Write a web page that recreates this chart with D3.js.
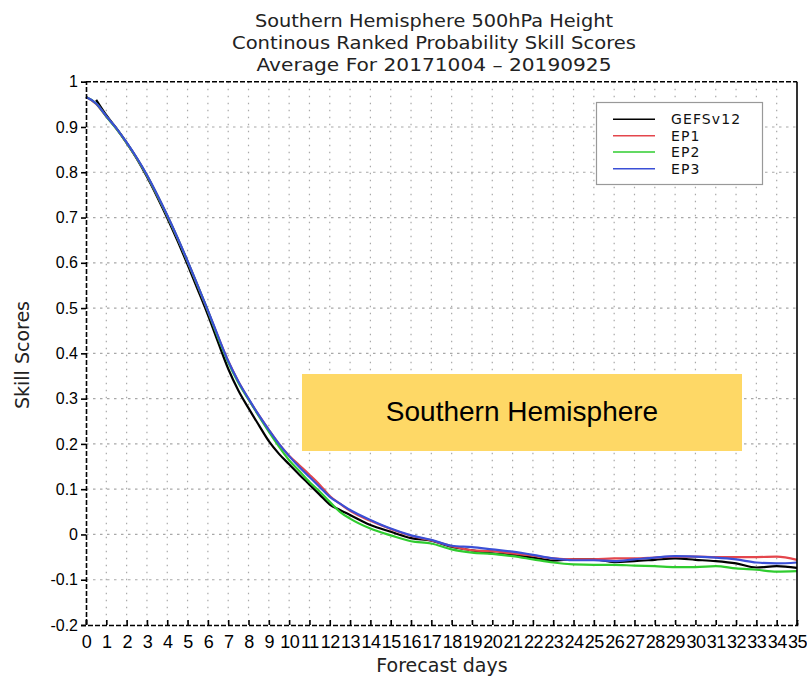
<!DOCTYPE html>
<html>
<head>
<meta charset="utf-8">
<script src="https://cdn.jsdelivr.net/npm/d3@7"></script>
<style>
  html, body { margin: 0; padding: 0; background: #fff; }
  svg { display: block; }
</style>
</head>
<body>
<svg id="chart" width="807" height="678"></svg>
<script>
// ---------------- DATA ----------------
const titleLines = [
  "Southern Hemisphere 500hPa Height",
  "Continous Ranked Probability Skill Scores",
  "Average For 20171004 \u2013 20190925"
];
const xLabel = "Forecast days";
const yLabel = "Skill Scores";
const bannerText = "Southern Hemisphere";

const days = [0, 0.5, 1, 1.5, 2, 2.5, 3, 3.5, 4, 4.5, 5, 5.5, 6, 6.5, 7, 7.5, 8, 8.5, 9, 9.5,
  10, 10.5, 11, 11.5, 12, 12.5, 13, 14, 15, 16, 17, 18, 19, 20, 21, 22, 23, 24, 25, 26, 27,
  28, 29, 30, 31, 32, 33, 34, 35];

const gefsv12 = [null, 0.960, 0.926, 0.897, 0.865, 0.830, 0.790, 0.746, 0.699, 0.649, 0.596, 0.541,
  0.485, 0.425, 0.366, 0.318, 0.279, 0.242, 0.206, 0.178, 0.155, 0.132, 0.110, 0.088, 0.066, 0.054,
  0.043, 0.021, 0.006, -0.008, -0.014, -0.027, -0.035, -0.042, -0.045, -0.051, -0.058, -0.055,
  -0.055, -0.061, -0.059, -0.056, -0.053, -0.056, -0.059, -0.064, -0.073, -0.070, -0.074];

const ep1 = [0.966, 0.951, 0.923, 0.896, 0.865, 0.831, 0.793, 0.750, 0.704, 0.655, 0.603, 0.549,
  0.494, 0.437, 0.383, 0.338, 0.299, 0.264, 0.231, 0.200, 0.174, 0.153, 0.132, 0.110, 0.085, 0.068,
  0.052, 0.030, 0.012, -0.003, -0.013, -0.026, -0.035, -0.037, -0.042, -0.047, -0.053, -0.055,
  -0.055, -0.053, -0.053, -0.051, -0.049, -0.049, -0.050, -0.050, -0.050, -0.049, -0.056];

const ep2 = [0.966, 0.952, 0.923, 0.896, 0.865, 0.831, 0.793, 0.750, 0.704, 0.655, 0.603, 0.549,
  0.494, 0.435, 0.380, 0.335, 0.298, 0.262, 0.227, 0.194, 0.164, 0.140, 0.116, 0.095, 0.072, 0.050,
  0.035, 0.013, -0.002, -0.015, -0.020, -0.033, -0.040, -0.043, -0.048, -0.055, -0.062, -0.066,
  -0.067, -0.067, -0.069, -0.070, -0.072, -0.072, -0.070, -0.075, -0.078, -0.082, -0.081];

const ep3 = [0.966, 0.952, 0.924, 0.897, 0.866, 0.832, 0.794, 0.751, 0.705, 0.656, 0.604, 0.550,
  0.495, 0.438, 0.383, 0.338, 0.300, 0.264, 0.231, 0.200, 0.173, 0.149, 0.127, 0.105, 0.083, 0.068,
  0.054, 0.032, 0.013, -0.002, -0.012, -0.025, -0.028, -0.033, -0.038, -0.045, -0.053, -0.057,
  -0.057, -0.059, -0.055, -0.051, -0.048, -0.049, -0.051, -0.055, -0.062, -0.064, -0.062];

const seriesNames = ["GEFSv12", "EP1", "EP2", "EP3"];
const seriesColors = ["#000000", "#e4464c", "#2fcc2f", "#3a4fd6"];
const seriesValues = [gefsv12, ep1, ep2, ep3];

const xTicks = d3.range(0, 36, 1);
const yTicks = [-0.2, -0.1, 0, 0.1, 0.2, 0.3, 0.4, 0.5, 0.6, 0.7, 0.8, 0.9, 1];
const yTickLabels = ["-0.2", "-0.1", "0", "0.1", "0.2", "0.3", "0.4", "0.5", "0.6", "0.7", "0.8", "0.9", "1"];

// ---------------- LAYOUT ----------------
const svg = d3.select("#chart");
const plot = { left: 86, right: 797, top: 81.7, bottom: 625 };
const x = d3.scaleLinear().domain([0, 35]).range([plot.left, plot.right]);
const y = d3.scaleLinear().domain([-0.2, 1]).range([plot.bottom, plot.top]);

const thinFont = "'DejaVu Sans', sans-serif";
const axisFont = "'Liberation Sans', Arial, sans-serif";

// Title
svg.append("g").selectAll("text").data(titleLines).join("text")
  .attr("x", 434).attr("y", (d, i) => 27 + i * 22)
  .attr("text-anchor", "middle")
  .attr("font-family", thinFont).attr("font-size", 18)
  .attr("textLength", (d, i) => [358, 404, 355][i])
  .attr("lengthAdjust", "spacingAndGlyphs")
  .attr("fill", "#222")
  .text(d => d);

// Grid
const grid = svg.append("g");
grid.selectAll("line.v").data(xTicks.filter(d => d > 0 && d < 35)).join("line")
  .attr("x1", d => x(d)).attr("x2", d => x(d))
  .attr("y1", plot.top).attr("y2", plot.bottom)
  .attr("stroke", "#a8a8a8").attr("stroke-width", 1.2)
  .attr("stroke-dasharray", "1.5,5.5");
grid.selectAll("line.h").data(yTicks.filter(d => d > -0.2 && d < 1)).join("line")
  .attr("x1", plot.left).attr("x2", plot.right)
  .attr("y1", d => y(d)).attr("y2", d => y(d))
  .attr("stroke", "#a8a8a8").attr("stroke-width", 1.2)
  .attr("stroke-dasharray", "2.5,4.5");

// Banner
svg.append("rect")
  .attr("x", 302).attr("y", 374).attr("width", 440).attr("height", 77)
  .attr("fill", "#fed866");
svg.append("text")
  .attr("x", 522).attr("y", 421).attr("text-anchor", "middle")
  .attr("font-family", axisFont).attr("font-size", 28).attr("fill", "#000")
  .text(bannerText);

// Lines
const line = d3.line()
  .defined(d => d[1] !== null)
  .curve(d3.curveMonotoneX)
  .x(d => x(d[0])).y(d => y(d[1]));
svg.append("g").selectAll("path").data(seriesValues).join("path")
  .attr("d", vals => line(days.map((d, i) => [d, vals[i]])))
  .attr("fill", "none")
  .attr("stroke", (d, i) => seriesColors[i])
  .attr("stroke-width", 2.2)
  .attr("stroke-linejoin", "round");

// Frame
const frame = svg.append("g").attr("stroke", "#000").attr("stroke-width", 1.6);
frame.append("line").attr("x1", plot.left).attr("x2", plot.right).attr("y1", plot.top).attr("y2", plot.top)
  .attr("stroke-dasharray", "5,2");
frame.append("line").attr("x1", plot.right).attr("x2", plot.right).attr("y1", plot.top).attr("y2", plot.bottom);

// Y axis
const yAxis = d3.axisLeft(y).tickValues(yTicks).tickSize(5).tickPadding(3)
  .tickFormat((d, i) => yTickLabels[i]);
const gy = svg.append("g").attr("transform", `translate(${plot.left},0)`).call(yAxis);
gy.select(".domain").attr("stroke", "#000").attr("stroke-width", 1.6).attr("stroke-dasharray", "5,2");
gy.selectAll(".tick line").attr("stroke", "#000").attr("stroke-width", 1.6);
gy.selectAll(".tick text").attr("font-family", axisFont).attr("font-size", 16).attr("fill", "#000");

// X axis
const xAxis = d3.axisBottom(x).tickValues(xTicks).tickSize(-5).tickPadding(10)
  .tickFormat(d => String(d));
const gx = svg.append("g").attr("transform", `translate(0,${plot.bottom})`).call(xAxis);
gx.select(".domain").attr("stroke", "#000").attr("stroke-width", 1.6).attr("stroke-dasharray", "5,2");
gx.selectAll(".tick line").attr("stroke", "#000").attr("stroke-width", 1.6);
gx.selectAll(".tick text").attr("font-family", axisFont).attr("font-size", 18).attr("fill", "#000")
  .attr("letter-spacing", "-0.5");

// Axis titles
svg.append("text").attr("x", 442).attr("y", 672).attr("text-anchor", "middle")
  .attr("font-family", thinFont).attr("font-size", 19).attr("fill", "#222")
  .text(xLabel);
svg.append("text").attr("transform", "translate(29,355) rotate(-90)").attr("text-anchor", "middle")
  .attr("font-family", thinFont).attr("font-size", 19).attr("fill", "#222")
  .text(yLabel);

// Legend
const legend = svg.append("g");
legend.append("rect").attr("x", 596.5).attr("y", 102.5).attr("width", 166).attr("height", 82)
  .attr("fill", "#fff").attr("stroke", "#999").attr("stroke-width", 1.2);
const ly = [119.3, 135.7, 152, 168.7];
const items = legend.selectAll("g.item").data(seriesNames).join("g");
items.append("line")
  .attr("x1", 613).attr("x2", 655)
  .attr("y1", (d, i) => ly[i]).attr("y2", (d, i) => ly[i])
  .attr("stroke", (d, i) => seriesColors[i]).attr("stroke-width", 1.6);
items.append("text")
  .attr("x", 671).attr("y", (d, i) => ly[i] + 5)
  .attr("font-family", thinFont).attr("font-size", 14).attr("letter-spacing", 1.1).attr("fill", "#111")
  .text(d => d);
</script>
</body>
</html>
